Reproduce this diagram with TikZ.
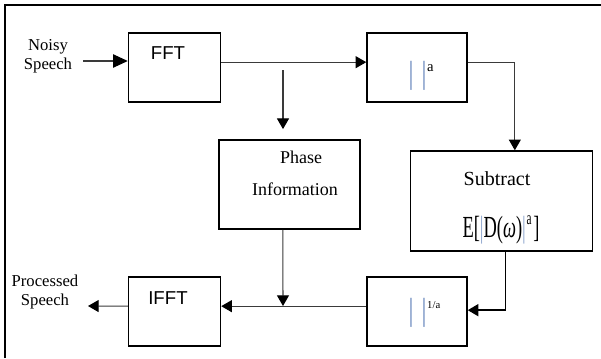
\documentclass[tikz,border=0pt]{standalone}
\usepackage{fontspec}
\setmainfont{Liberation Serif}
\newfontfamily\blocksans{Liberation Sans}
\usepackage{xcolor}
\usepackage{graphicx}
\usepackage{tikz}
\usetikzlibrary{arrows.meta,positioning,calc}
\definecolor{bar}{HTML}{8BA3CC}
\definecolor{wire}{HTML}{3A3A3A}
\newcommand{\absbar}{\textcolor{bar}{|}}
\newcommand{\sizeit}[1]{\fontsize{#1}{#1}\selectfont}

\tikzset{
  block/.style={draw, line width=1.1pt, inner sep=0pt},
  flow/.style={draw=wire, line width=0.8pt, -{Triangle[length=8pt,width=9pt,color=black]}},
  lbl/.style={inner sep=0pt, align=center}
}

\begin{document}
\begin{tikzpicture}[x=0.75pt, y=-0.75pt]
  \useasboundingbox (0,0) rectangle (601,358);
  \draw[line width=1.4pt] (5,358) -- (5,5) -- (601,5);

  % boxes
  \node[block, minimum width=69pt, minimum height=52pt] (fft) at (174.5,67.5) {};
  \node[block, minimum width=75pt, minimum height=52pt] (mag) at (417,67.5) {};
  \node[block, minimum width=106pt, minimum height=67pt] (phase) at (289.5,184.5) {};
  \node[block, minimum width=136.5pt, minimum height=75pt] (subtract) at (501.5,201) {};
  \node[block, minimum width=69pt, minimum height=52pt] (ifft) at (174.5,311.5) {};
  \node[block, minimum width=75pt, minimum height=52pt] (inv) at (417,311.5) {};

  % texts
  \node[lbl, font=\sizeit{12.5}] (noisy) at (48,56) {Noisy\\[2pt]Speech};
  \node[lbl, font=\sizeit{12.5}] (processed) at (45,292) {Processed\\[2pt]Speech};
  \node[lbl, anchor=base, font=\blocksans\sizeit{14}] (fftlbl) at (168,59) {FFT};
  \node[lbl, anchor=base, font=\blocksans\sizeit{14}] (ifftlbl) at (168,304) {IFFT};
  \node[lbl, anchor=base, font=\sizeit{13.5}] (phaselbl) at (301,163) {Phase};
  \node[lbl, anchor=base, font=\sizeit{13.5}] (infolbl) at (295,195) {Information};
  \node[lbl, anchor=base, font=\sizeit{15}] (sublbl) at (497,185) {Subtract};
  \node[lbl, anchor=base, font=\sizeit{23}] (noiselbl) at (501,237)
    {\scalebox{0.6}[1]{E[\absbar D(\textit{ω})\absbar\kern1pt\raisebox{9.5pt}{\sizeit{14}a}\kern2pt]}};
  \node[lbl, anchor=base west, font=\sizeit{24}] (maglbl) at (407.5,83)
    {\absbar\kern5pt\absbar\raisebox{9pt}{\sizeit{11}a}};
  \node[lbl, anchor=base west, font=\sizeit{24}] (invlbl) at (407.5,320)
    {\absbar\kern5pt\absbar\raisebox{9pt}{\sizeit{8}1/a}};

  % connectors
  \coordinate (in) at (83,61);
  \coordinate (tap) at (283,70);
  \coordinate (join) at (283,306);
  \coordinate (out) at (88,306);
  \draw[flow, -{Triangle[length=11pt,width=10pt,color=black]}] (in) -- (in -| fft.west);
  \draw[flow] ([yshift=4pt]fft.east) -- ([yshift=4pt]mag.west);
  \draw[flow, shorten >=7.5pt] (tap) -- (tap |- phase.north);
  \draw[flow] ([yshift=4pt]mag.east) -| ([xshift=10pt]subtract.north);
  \draw[flow, draw=black, line width=1.3pt] ([xshift=3pt]subtract.south) |- ([yshift=1pt]inv.east);
  \draw[flow] ([yshift=4pt]inv.west) -- ([yshift=4pt]ifft.east);
  \draw[flow] ([xshift=-5pt]phase.south) -- (join);
  \draw[flow] ([yshift=4pt]ifft.west) -- (out);
\end{tikzpicture}
\end{document}
